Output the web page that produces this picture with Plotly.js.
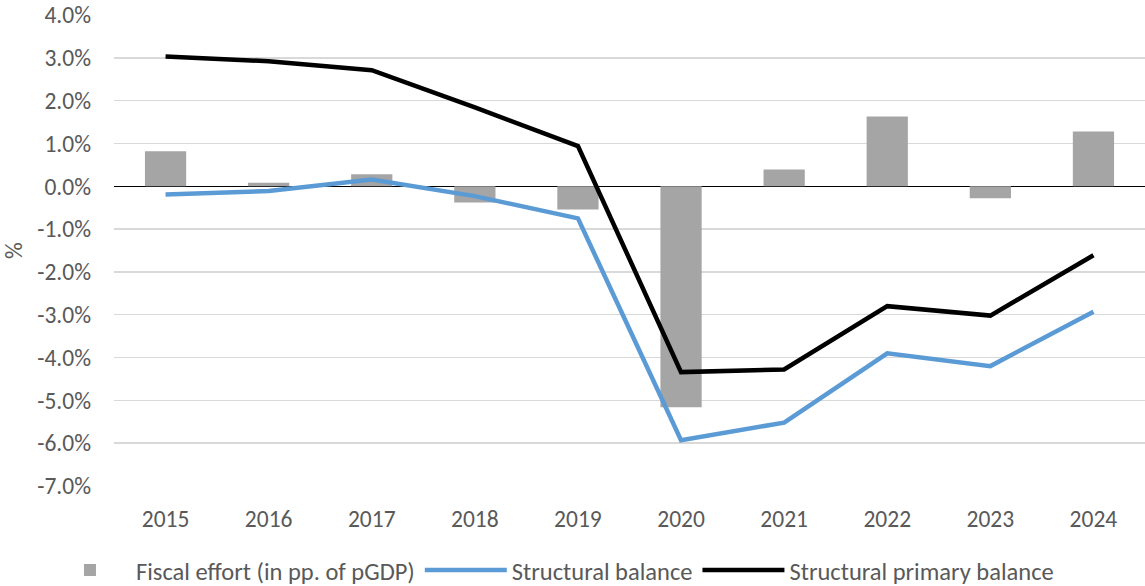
<!DOCTYPE html>
<html><head><meta charset="utf-8">
<script src="https://cdn.plot.ly/plotly-3.0.1.min.js"></script>
<style>html,body{margin:0;padding:0;background:#fff}#chart{width:1145px;height:586px}</style>
</head><body><div id="chart"></div>
<script>
const years = ['2015','2016','2017','2018','2019','2020','2021','2022','2023','2024'];
const fiscalEffort = [0.82, 0.08, 0.28, -0.38, -0.54, -5.16, 0.39, 1.63, -0.28, 1.28];
const structuralBalance = [-0.19, -0.11, 0.16, -0.23, -0.75, -5.93, -5.52, -3.90, -4.20, -2.93];
const structuralPrimary = [3.03, 2.92, 2.71, 1.84, 0.94, -4.34, -4.28, -2.80, -3.02, -1.61];
const yTicks = [4, 3, 2, 1, 0, -1, -2, -3, -4, -5, -6, -7];
const yTickText = yTicks.map(v => (v < 0 ? '-' : '') + Math.abs(v).toFixed(1) + '%');

const font = 'Carlito, "Open Sans", sans-serif';
const traces = [
  {type:'bar', x: years, y: fiscalEffort, name:'Fiscal effort (in pp. of pGDP)',
   marker:{color:'#A5A5A5'}},
  {type:'scatter', mode:'lines', x: years, y: structuralBalance, name:'Structural balance',
   line:{color:'#5B9BD5', width:4.5}},
  {type:'scatter', mode:'lines', x: years, y: structuralPrimary, name:'Structural primary balance',
   line:{color:'#000000', width:4.5}}
];
const layout = {
  width:1145, height:586,
  margin:{l:114, r:0, t:15, b:100},
  paper_bgcolor:'#fff', plot_bgcolor:'#fff',
  font:{family:font, size:23.5, color:'#595959'},
  bargap:0.6,
  showlegend:true,
  legend:{orientation:'h', xref:'container', yref:'container', x:0.0384, xanchor:'left',
          y:0.027, yanchor:'middle',
          font:{family:font, size:24.5, color:'#595959'}, itemwidth:82, traceorder:'normal'},
  xaxis:{type:'category', showgrid:false, zeroline:false, showline:false, ticks:'',
         tickfont:{family:font, size:23.5, color:'#595959'}, ticklabelstandoff:16},
  yaxis:{range:[-7,4], tickvals:yTicks, ticktext:yTickText, showgrid:true,
         gridcolor:'#D9D9D9', gridwidth:1.5, zeroline:true, zerolinecolor:'#000', zerolinewidth:1.5,
         showline:false, ticks:'', ticklabelstandoff:22,
         tickfont:{family:font, size:23.5, color:'#595959'},
         title:{text:'%', font:{family:font, size:23.5, color:'#595959'}, standoff:8}}
};
Plotly.newPlot('chart', traces, layout, {displayModeBar:false, staticPlot:true});
</script></body></html>
